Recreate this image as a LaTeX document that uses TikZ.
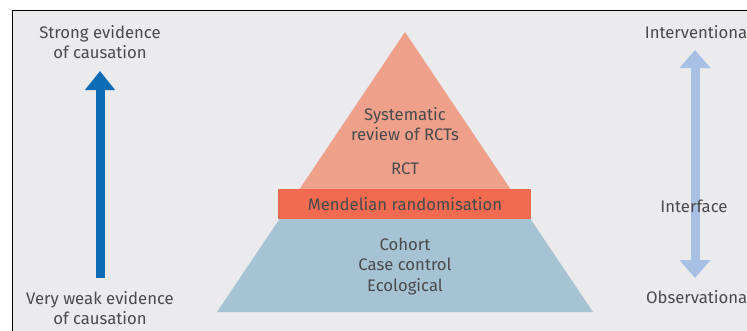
\documentclass[tikz,border=0pt]{standalone}
\usepackage{fontspec}
\setmainfont{Fira Sans}
\usetikzlibrary{arrows.meta}
\definecolor{bggray}{HTML}{EBEBEE}
\definecolor{salmon}{HTML}{EFA08B}
\definecolor{bandred}{HTML}{F26A4F}
\definecolor{lowblue}{HTML}{A5C3D3}
\definecolor{txtgray}{HTML}{4A4A4C}
\definecolor{strongblue}{HTML}{0B6CB5}
\definecolor{paleblue}{HTML}{A8C0E3}
\tikzset{
  lbl/.style={text=txtgray, font=\fontsize{16.7}{20.5}\selectfont, align=center, inner sep=0pt},
  bigarrow/.style={line width=9pt, -{Triangle[width=29pt,length=19pt]}},
  dblarrow/.style={line width=9pt, {Triangle[width=30pt,length=18pt]}-{Triangle[width=30pt,length=18pt]}},
}
\begin{document}
\begin{tikzpicture}[x=1pt,y=-1pt]
\useasboundingbox (0,0) rectangle (747,330);
\clip (0,0) rectangle (747,330);
\fill[white] (0,0) rectangle (747,330);
\draw[fill=bggray, line width=1.6pt] (12.5,10.5) rectangle (770,350);
% pyramid
\fill[salmon] (405,32) -- (510.4,189) -- (299.6,189) -- cycle;
\fill[lowblue] (279.5,219) -- (530.5,219) -- (593,312) -- (217,312) -- cycle;
\fill[bandred] (278,189) rectangle (531,219);
\node[lbl] (sys) at (405,124) {Systematic\\review of RCTs};
\node[lbl] (rct) at (405,169) {RCT};
\node[lbl] (mr) at (405,204) {Mendelian randomisation};
\node[lbl] (obs) at (405,266.5) {Cohort\\Case control\\Ecological};
% left side
\node[lbl] (strong) at (100,42) {Strong evidence\\of causation};
\node[lbl] (weak) at (100,308) {Very weak evidence\\of causation};
\coordinate (la) at (100,278);
\coordinate (lb) at (100,71);
\draw[bigarrow, strongblue] (la) -- (lb);
% right side
\coordinate (ra) at (695,278);
\coordinate (rb) at (695,50);
\draw[dblarrow, paleblue] (ra) -- (rb);
\node[lbl, anchor=east] (interv) at (747.5,32) {Interventiona};
\node[lbl] (interf) at (694,206) {Interface};
\node[lbl, anchor=east] (observ) at (747.5,297) {Observationa};
\end{tikzpicture}
\end{document}
